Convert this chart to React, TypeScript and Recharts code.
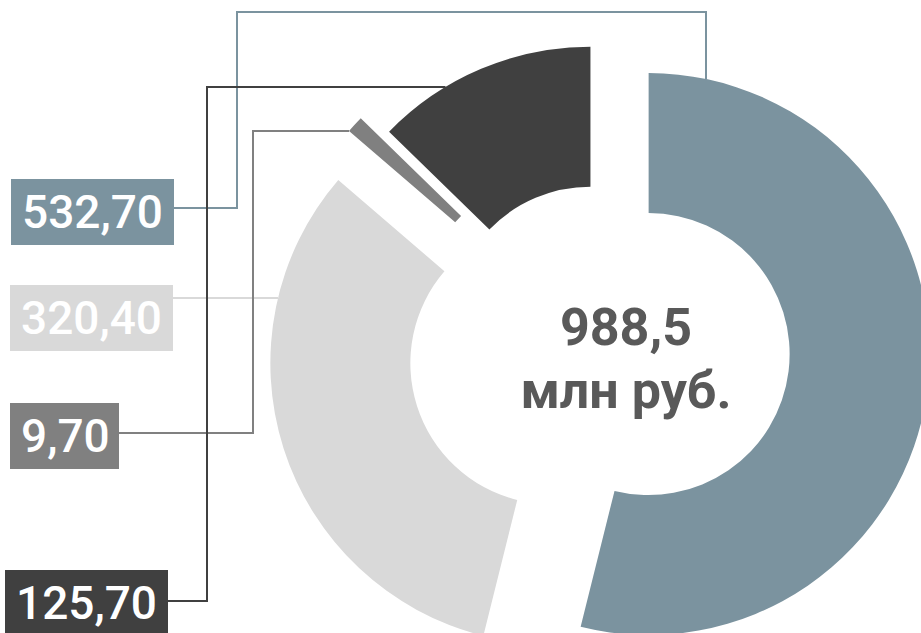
import { PieChart, Pie, Cell, Sector, Label } from 'recharts'

// data
const names = ['A', 'B', 'C', 'D']
const values = [532.7, 320.4, 9.7, 125.7]
const valueLabels = ['532,70', '320,40', '9,70', '125,70']
const colors = ['#7b939f', '#d9d9d9', '#808080', '#404040']
const centerLines = ['988,5', 'млн руб.']

// layout (not data)
const PIE_CX = 599
const PIE_CY = 348
const explode = [50, 50, 50, 22]
const boxes = [
  { x: 11, y: 179, w: 163, lineY: 208, laneX: 237, laneY: 12, endX: 706 },
  { x: 10, y: 285, w: 163, lineY: 298 },
  { x: 10, y: 403, w: 109, lineY: 433, laneX: 253, laneY: 131 },
  { x: 5, y: 570, w: 163, lineY: 601, laneX: 207, laneY: 87 },
]
const BOX_H = 66
const RADIAN = Math.PI / 180

const data = names.map((name, i) => ({ name, value: values[i], label: valueLabels[i] }))

const shift = (cx: number, cy: number, midAngle: number, i: number) => {
  const d = explode[i] ?? 0
  const a = -midAngle * RADIAN
  return { x: cx + d * Math.cos(a), y: cy + d * Math.sin(a) }
}

const ExplodedSector = (props: any) => {
  const i = names.indexOf(props.name ?? props.payload?.name)
  const c = shift(props.cx, props.cy, props.midAngle, i)
  return <Sector {...props} cx={c.x} cy={c.y} />
}

const renderLabel = (props: any) => {
  const i = names.indexOf(props.name ?? props.payload?.name)
  const b = boxes[i]
  const R = props.outerRadius
  const c = shift(props.cx, props.cy, props.midAngle, i)
  const right = b.x + b.w
  let path = `M${right},${b.lineY}`
  if (b.endX !== undefined) {
    const endY = c.y - Math.sqrt(R * R - (b.endX - c.x) ** 2)
    path += ` H${b.laneX} V${b.laneY} H${b.endX} V${endY}`
  } else if (b.laneX !== undefined) {
    const endX = c.x - Math.sqrt(R * R - (b.laneY - c.y) ** 2)
    path += ` H${b.laneX} V${b.laneY} H${endX}`
  } else {
    const endX = c.x - Math.sqrt(R * R - (b.lineY - c.y) ** 2)
    path += ` H${endX}`
  }
  return (
    <g>
      <path d={path} fill="none" stroke={colors[i]} strokeWidth={2} />
      <rect x={b.x} y={b.y} width={b.w} height={BOX_H} fill={colors[i]} />
      <text x={b.x + 11} y={b.y + 49} fill="#fff" fontSize={46} fontWeight={500} fontFamily="Roboto">
        {valueLabels[i]}
      </text>
    </g>
  )
}

const CenterText = () => (
  <text textAnchor="middle" fill="#595959" fontSize={52} fontWeight="bold" fontFamily="Roboto">
    <tspan x={PIE_CX + 27} y={PIE_CY - 3}>{centerLines[0]}</tspan>
    <tspan x={PIE_CX + 27} y={PIE_CY + 60}>{centerLines[1]}</tspan>
  </text>
)

export default function App() {
  return (
    <div style={{ position: 'absolute', left: 0, top: 0 }}>
      <PieChart width={921} height={633} margin={{ top: 0, right: 0, bottom: 0, left: 0 }}>
        <Pie
          data={data}
          dataKey="value"
          cx={PIE_CX}
          cy={PIE_CY}
          innerRadius={141}
          outerRadius={281}
          startAngle={90}
          endAngle={-270}
          stroke="none"
          shape={ExplodedSector}
          label={renderLabel}
          labelLine={false}
          isAnimationActive={false}
        >
          {data.map((d, i) => <Cell key={d.name} fill={colors[i]} />)}
          <Label position="center" content={CenterText} />
        </Pie>
      </PieChart>
    </div>
  )
}
